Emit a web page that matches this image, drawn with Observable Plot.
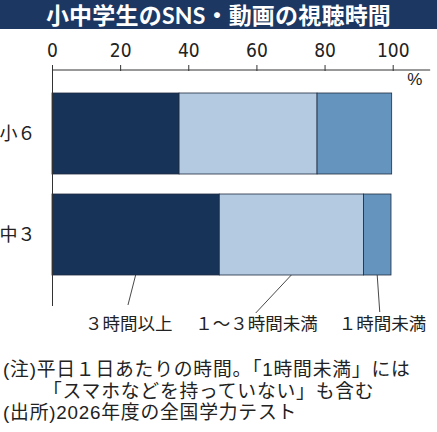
<!DOCTYPE html>
<html>
<head>
<meta charset="utf-8">
<script src="https://cdn.jsdelivr.net/npm/d3@7"></script>
<script src="https://cdn.jsdelivr.net/npm/@observablehq/plot@0.6"></script>
<style>
  html, body { margin: 0; padding: 0; background: #fff; }
  #wrap { width: 437px; font-family: "Noto Sans CJK JP", "Noto Sans", sans-serif; color: #222; }
  #title { height: 30px; background: #1c3862; color: #fff; font-weight: bold; font-size: 23px;
           font-family: Lato, "Noto Sans CJK JP", sans-serif;
           line-height: 30px; text-align: center; overflow: hidden; letter-spacing: 0.2px; }
  #chart { margin-top: -1px; }
  #notes { font-family: "Liberation Sans", "Noto Sans CJK JP", sans-serif;
           font-size: 18.8px; line-height: 21.7px; padding-left: 3px; margin-top: 19px;
           white-space: nowrap; letter-spacing: 0.8px; }
  #notes .indent { padding-left: 40px; }
</style>
</head>
<body>
<div id="wrap">
  <div id="title">小中学生のSNS・動画の視聴時間</div>
  <div id="chart"></div>
  <div id="notes">
    <div>(注)平日１日あたりの時間。「1時間未満」には</div>
    <div class="indent">「スマホなどを持っていない」も含む</div>
    <div>(出所)2026年度の全国学力テスト</div>
  </div>
</div>
<script>
// ---- data ----
const grades = ["小６", "中３"];
const categories = ["３時間以上", "１～３時間未満", "１時間未満"];
const valuesG6 = [37.3, 40.5, 21.9];
const valuesJ3 = [49.1, 42.3, 8.1];
const xTicks = [0, 20, 40, 60, 80, 100];

// ---- table ----
const rows = [];
[[grades[0], valuesG6], [grades[1], valuesJ3]].forEach(([g, vals]) => {
  let acc = 0;
  vals.forEach((v, i) => {
    rows.push({grade: g, category: categories[i], x1: acc, x2: acc + v});
    acc += v;
  });
});

const colors = ["#173358", "#b3cae1", "#6594be"];
const W = 437, H = 311;

const plot = Plot.plot({
  width: W,
  height: H,
  marginLeft: 52,
  marginRight: 44.3,
  marginTop: 41,
  marginBottom: 34,
  style: {fontFamily: "'Noto Sans CJK JP', sans-serif", color: "#222", background: "#fff"},
  x: {domain: [0, 100]},
  y: {domain: grades, range: [63.7, 246.5], paddingInner: 0.2, paddingOuter: 0},
  color: {domain: categories, range: colors},
  marks: [
    Plot.barX(rows, {x1: "x1", x2: "x2", y: "grade", fill: "category", stroke: "#1e2c40", strokeWidth: 0.8}),
    Plot.ruleX([0], {stroke: "#333", strokeWidth: 1}),
    Plot.axisX({anchor: "top", ticks: xTicks, tickSize: 6, tickPadding: 8, label: null,
      fontSize: 19, fontFamily: "'Liberation Sans Narrow', 'DejaVu Sans Condensed', sans-serif", stroke: "#333"}),
    Plot.axisY({anchor: "left", tickSize: 0, tickPadding: 17, label: null, fontSize: 18})
  ]
});

document.getElementById("chart").appendChild(plot);

// ---- annotations using the plot's own scales ----
const xs = plot.scale("x"), ys = plot.scale("y");
const svg = d3.select(plot);
const X = v => xs.apply(v);
const topY = 41;
// top axis line extending past 100
svg.append("line").attr("x1", X(0)).attr("x2", X(111)).attr("y1", topY).attr("y2", topY)
   .attr("stroke", "#333").attr("stroke-width", 1);
svg.append("text").attr("x", X(106.5)).attr("y", 52).attr("text-anchor", "middle")
   .attr("dominant-baseline", "middle").attr("font-size", 17).attr("fill", "#222")
   .attr("font-family", "'Liberation Sans Narrow', sans-serif").text("%");

// leader lines from 中３ bar segments to the category labels
const lastRows = rows.filter(r => r.grade === grades[1]);
const barBottom = ys.apply(grades[1]) + ys.bandwidth;
const labelX = [22.5, 60, 97];
const lineDrop = [30, 38, 37];
const labelY = 296;
lastRows.forEach((r, i) => {
  const mid = (r.x1 + r.x2) / 2;
  const endX = [22.3, 59.8, 96.2][i];
  svg.append("line").attr("x1", X(mid)).attr("y1", barBottom).attr("x2", X(endX)).attr("y2", barBottom + lineDrop[i])
     .attr("stroke", "#333").attr("stroke-width", 0.9);
  svg.append("text").attr("x", X(labelX[i])).attr("y", labelY).attr("text-anchor", "middle")
     .attr("dominant-baseline", "middle").attr("font-size", 17.5).attr("fill", "#222")
     .attr("font-family", "'Noto Sans CJK JP', sans-serif").text(r.category);
});
</script>
</body>
</html>
